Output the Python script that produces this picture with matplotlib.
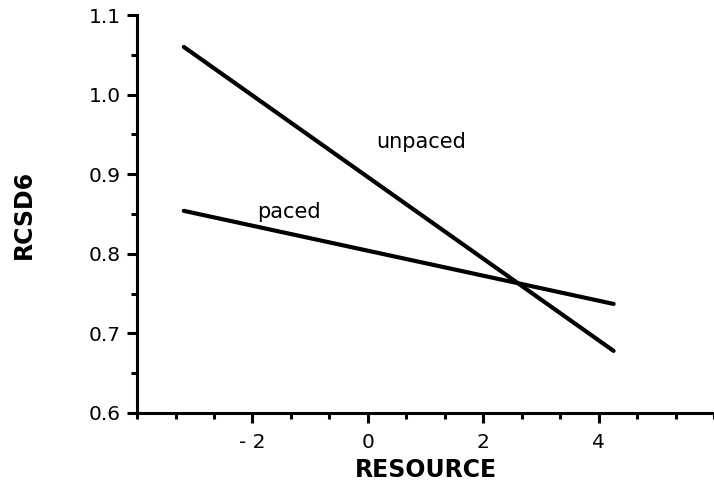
import numpy as np
import matplotlib.pyplot as plt
from matplotlib.ticker import MultipleLocator

# values (regression lines, end points)
resource = [-3.19, 4.26]
unpaced = [1.06, 0.678]
paced = [0.854, 0.737]

xticks = [-2, 0, 2, 4]
xticklabels = ['- 2', '0', '2', '4']
yticks = [0.6, 0.7, 0.8, 0.9, 1.0, 1.1]

plt.rcParams['font.family'] = ['DejaVu Sans']

fig = plt.figure(figsize=(7.14, 5.03), dpi=100)
ax = fig.add_axes([0.192, 0.179, 0.808, 0.791])

ax.plot(resource, unpaced, color='black', lw=3.0, solid_capstyle='round')
ax.plot(resource, paced, color='black', lw=3.0, solid_capstyle='round')

ax.text(0.14, 0.933, 'unpaced', fontsize=15)
ax.text(-1.92, 0.845, 'paced', fontsize=15)

ax.set_xlim(-4, 6)
ax.set_ylim(0.6, 1.1)
ax.set_xticks(xticks)
ax.set_xticklabels(xticklabels)
ax.set_yticks(yticks)
ax.set_yticklabels(['%.1f' % v for v in yticks])
ax.xaxis.set_minor_locator(MultipleLocator(2 / 3))
ax.yaxis.set_minor_locator(MultipleLocator(0.05))

for s in ['top', 'right']:
    ax.spines[s].set_visible(False)
for s in ['left', 'bottom']:
    ax.spines[s].set_linewidth(2.2)

ax.tick_params(which='major', direction='out', length=7.5, width=2.2, labelsize=14.5, pad=4)
ax.tick_params(axis='x', which='major', pad=7)
ax.tick_params(which='minor', direction='out', length=4.5, width=2.2)

ax.set_xlabel('RESOURCE', fontsize=17, fontweight='bold', labelpad=4)
ax.set_ylabel('RCSD6', fontsize=17, fontweight='bold', labelpad=38)

fig.savefig('out.png', dpi=100)
